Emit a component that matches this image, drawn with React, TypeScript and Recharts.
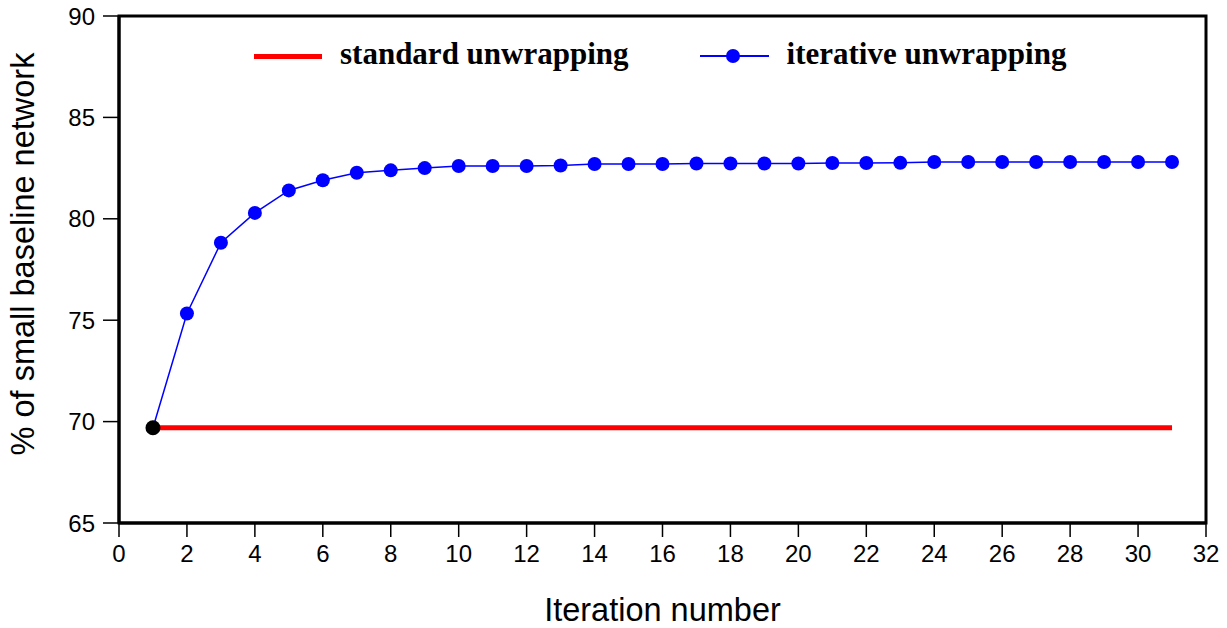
import { LineChart, Line, XAxis, YAxis, Legend, ReferenceArea, Label } from "recharts";

const iterations = [1, 2, 3, 4, 5, 6, 7, 8, 9, 10, 11, 12, 13, 14, 15, 16, 17, 18, 19, 20, 21, 22, 23, 24, 25, 26, 27, 28, 29, 30, 31];
const iterativeUnwrapping = [69.7, 75.33, 78.82, 80.29, 81.4, 81.9, 82.27, 82.39, 82.5, 82.6, 82.6, 82.6, 82.63, 82.7, 82.7, 82.7, 82.73, 82.73, 82.73, 82.73, 82.75, 82.75, 82.76, 82.8, 82.8, 82.8, 82.8, 82.8, 82.8, 82.8, 82.8];
const standardUnwrapping = [69.7, 69.7, 69.7, 69.7, 69.7, 69.7, 69.7, 69.7, 69.7, 69.7, 69.7, 69.7, 69.7, 69.7, 69.7, 69.7, 69.7, 69.7, 69.7, 69.7, 69.7, 69.7, 69.7, 69.7, 69.7, 69.7, 69.7, 69.7, 69.7, 69.7, 69.7];
const xTicks = [0, 2, 4, 6, 8, 10, 12, 14, 16, 18, 20, 22, 24, 26, 28, 30, 32];
const yTicks = [65, 70, 75, 80, 85, 90];

const data = iterations.map((it, i) => ({
  iter: it,
  standard: standardUnwrapping[i],
  iterative: iterativeUnwrapping[i],
}));

const sans = '"Liberation Sans", Arial, Helvetica, sans-serif';
const serif = '"Liberation Serif", "Times New Roman", serif';

const LegendBox = () => (
  <div
    style={{
      display: "flex",
      alignItems: "center",
      fontFamily: serif,
      fontWeight: "bold",
      fontSize: 31,
      lineHeight: "31px",
      color: "#000",
      whiteSpace: "nowrap",
    }}
  >
    <div style={{ width: 68, height: 5, background: "#ff0000", marginRight: 18, transform: "translateY(3px)" }} />
    <span style={{ marginRight: 71 }}>standard unwrapping</span>
    <svg width={69} height={16} style={{ marginRight: 18, transform: "translateY(2px)" }}>
      <line x1={0} y1={8} x2={69} y2={8} stroke="#0000ff" strokeWidth={2} />
      <circle cx={33} cy={8} r={7} fill="#0000ff" />
    </svg>
    <span>iterative unwrapping</span>
  </div>
);

const renderDot = (props: any) => {
  const { cx, cy, index } = props;
  return <circle key={`dot-${index}`} cx={cx} cy={cy} r={index === 0 ? 7.5 : 7} fill={index === 0 ? "#000" : "#0000ff"} />;
};

const YLabel = () => (
  <text
    x={34}
    y={254}
    transform="rotate(-90, 34, 254)"
    textAnchor="middle"
    fontFamily={sans}
    fontSize={32.5}
    fill="#000"
  >
    % of small baseline network
  </text>
);

export default function App() {
  return (
    <div style={{ position: "absolute", left: 0, top: 0, background: "#fff" }}>
      <LineChart width={1227} height={628} data={data} margin={{ top: 16, right: 21, left: 0, bottom: 0 }}>
        <XAxis
          dataKey="iter"
          type="number"
          domain={[0, 32]}
          ticks={xTicks}
          interval={0}
          height={105}
          tickSize={14}
          tickMargin={8}
          axisLine={{ stroke: "#000", strokeWidth: 3 }}
          tickLine={{ stroke: "#000", strokeWidth: 1.5 }}
          tick={{ fill: "#000", fontSize: 24, fontFamily: sans }}
        >
          <Label value="Iteration number" position="insideBottom" offset={7} fill="#000" fontSize={32.5} fontFamily={sans} />
        </XAxis>
        <YAxis
          type="number"
          domain={[65, 90]}
          ticks={yTicks}
          interval={0}
          width={119}
          tickSize={16}
          tickMargin={8}
          axisLine={{ stroke: "#000", strokeWidth: 3 }}
          tickLine={{ stroke: "#000", strokeWidth: 1.5 }}
          tick={{ fill: "#000", fontSize: 24, fontFamily: sans }}
        >
          <Label content={() => <YLabel />} />
        </YAxis>
        <ReferenceArea x1={0} x2={32} y1={65} y2={90} fill="none" stroke="#000" strokeWidth={3} ifOverflow="visible" />
        <Line
          dataKey="standard"
          type="linear"
          stroke="#ff0000"
          strokeWidth={5}
          dot={false}
          activeDot={false}
          isAnimationActive={false}
        />
        <Line
          dataKey="iterative"
          type="linear"
          stroke="#0000ff"
          strokeWidth={1.5}
          dot={renderDot}
          activeDot={false}
          isAnimationActive={false}
        />
        <Legend
          layout="horizontal"
          verticalAlign="middle"
          align="center"
          content={() => <LegendBox />}
          wrapperStyle={{ left: 254, top: 38, width: "auto", height: "auto" }}
        />
      </LineChart>
    </div>
  );
}
